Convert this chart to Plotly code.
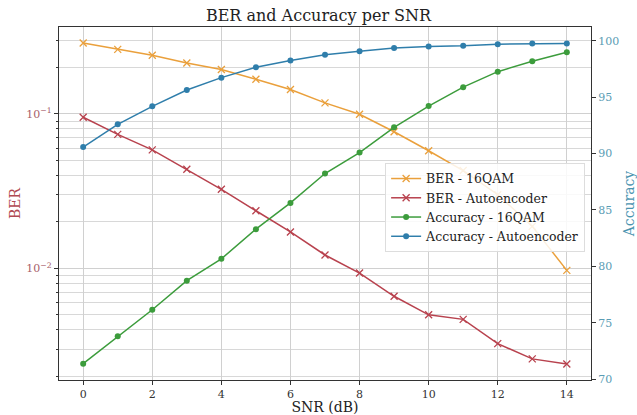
import plotly.graph_objects as go
import math

snr = list(range(15))
ber_16qam = [0.288, 0.262, 0.240, 0.214, 0.194, 0.168, 0.144, 0.118, 0.0995, 0.0767, 0.0578, 0.043, 0.030, 0.0187, 0.0097]
ber_ae = [0.0952, 0.0738, 0.0585, 0.0438, 0.0325, 0.0236, 0.0172, 0.0122, 0.00932, 0.00659, 0.0050, 0.00467, 0.00325, 0.00259, 0.00240]
acc_16qam = [71.38, 73.81, 76.16, 78.73, 80.67, 83.30, 85.63, 88.23, 90.09, 92.33, 94.21, 95.89, 97.26, 98.19, 98.99]
acc_ae = [90.58, 92.59, 94.19, 95.63, 96.73, 97.66, 98.26, 98.76, 99.08, 99.35, 99.50, 99.56, 99.70, 99.76, 99.76]

x_ticks = [0, 2, 4, 6, 8, 10, 12, 14]
ber_ticks = [0.1, 0.01]
ber_tick_text = ["10<sup>−1</sup>", "10<sup>−2</sup>"]
ber_minor = [0.002, 0.003, 0.004, 0.005, 0.006, 0.007, 0.008, 0.009,
             0.02, 0.03, 0.04, 0.05, 0.06, 0.07, 0.08, 0.09, 0.2, 0.3]
acc_ticks = [70, 75, 80, 85, 90, 95, 100]

C_ORANGE = "#eaa03c"
C_RED = "#b8424e"
C_GREEN = "#3c9c3c"
C_BLUE = "#2f7eab"
FONT = "DejaVu Serif"

fig = go.Figure()
fig.add_trace(go.Scatter(x=snr, y=ber_16qam, name="BER - 16QAM", mode="lines+markers",
                         line=dict(color=C_ORANGE, width=1.5),
                         marker=dict(symbol="x-thin", size=7, line=dict(color=C_ORANGE, width=1.3))))
fig.add_trace(go.Scatter(x=snr, y=ber_ae, name="BER - Autoencoder", mode="lines+markers",
                         line=dict(color=C_RED, width=1.5),
                         marker=dict(symbol="x-thin", size=7, line=dict(color=C_RED, width=1.3))))
fig.add_trace(go.Scatter(x=snr, y=acc_16qam, name="Accuracy - 16QAM", mode="lines+markers",
                         line=dict(color=C_GREEN, width=1.5),
                         marker=dict(symbol="circle", size=6, color=C_GREEN), yaxis="y2"))
fig.add_trace(go.Scatter(x=snr, y=acc_ae, name="Accuracy - Autoencoder", mode="lines+markers",
                         line=dict(color=C_BLUE, width=1.5),
                         marker=dict(symbol="circle", size=6, color=C_BLUE), yaxis="y2"))

fig.update_layout(
    width=637, height=415,
    margin=dict(l=59, r=46, t=27, b=35),
    paper_bgcolor="white", plot_bgcolor="white",
    font=dict(family=FONT, size=11, color="#333333"),
    title=dict(text="BER and Accuracy per SNR", x=0.5, xanchor="center", y=0.963, yanchor="middle",
               font=dict(family=FONT, size=16, color="#222222")),
    xaxis=dict(range=[-0.7, 14.7], tickvals=x_ticks, showgrid=True, gridcolor="#d0d0d0", gridwidth=1,
               showline=True, linecolor="#333333", linewidth=1.2, mirror=True, automargin=False,
               ticks="outside", ticklen=4, tickcolor="#333333", zeroline=False,
               tickfont=dict(size=11, color="#333333"),
               title=dict(text="SNR (dB)", font=dict(size=14, color="#222222"), standoff=0)),
    yaxis=dict(type="log", range=[math.log10(0.00189), math.log10(0.366)], automargin=False,
               tickmode="array", tickvals=ber_ticks, ticktext=ber_tick_text,
               showgrid=True, gridcolor="#d0d0d0", gridwidth=1,
               minor=dict(tickmode="array", tickvals=ber_minor, showgrid=True, gridcolor="#d8d8d8",
                          ticks="outside", ticklen=2, tickcolor="#333333"),
               showline=True, linecolor="#333333", linewidth=1.2,
               ticks="outside", ticklen=4, tickcolor="#333333", zeroline=False,
               tickfont=dict(size=11, color="#a8606a"),
               title=dict(text="BER", font=dict(size=14, color="#b04a52"), standoff=2)),
    yaxis2=dict(overlaying="y", side="right", range=[69.93, 101.22], tickvals=acc_ticks, automargin=False,
                showgrid=False, showline=True, linecolor="#333333", linewidth=1.2,
                ticks="outside", ticklen=4, tickcolor="#333333", zeroline=False,
                tickfont=dict(size=11, color="#5a9cb4"),
                title=dict(text="Accuracy", font=dict(size=14, color="#4a94b0"), standoff=5)),
    legend=dict(x=0.613, y=0.615, xanchor="left", yanchor="top",
                bgcolor="rgba(255,255,255,0.85)", bordercolor="#dddddd", borderwidth=1,
                font=dict(family=FONT, size=12.5, color="#222222"), tracegroupgap=0,
                itemwidth=30),
    showlegend=True,
)

fig.write_html("out.html", config={"displayModeBar": False},
               post_script="document.body.style.margin='0px';")
